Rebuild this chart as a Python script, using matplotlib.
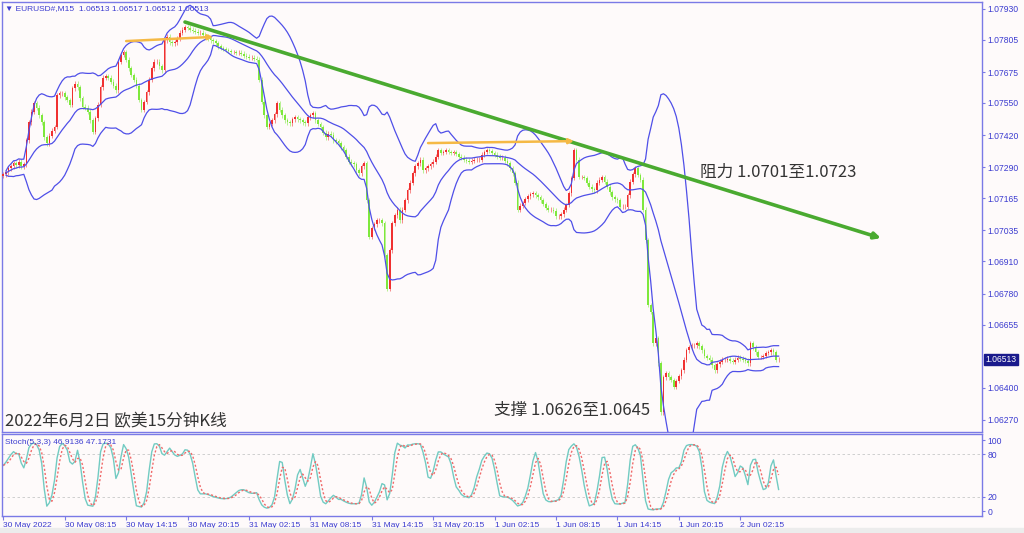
import numpy as np
import pandas as pd
import matplotlib
matplotlib.use("Agg")
import matplotlib.pyplot as plt
from matplotlib.patches import Rectangle

# EURUSD M15 收盘价（单位 0.00001），按日期分段
close_30may = [
    107263, 107271, 107287, 107295, 107307, 107299, 107312, 107295, 107303, 107400,
    107473, 107514, 107550, 107530, 107501, 107473, 107412, 107388, 107417, 107437,
    107453, 107582, 107590, 107590, 107574, 107562, 107542, 107610, 107627, 107614,
    107570, 107534, 107530, 107514, 107481, 107433, 107489, 107542, 107614, 107651,
    107659, 107651, 107635, 107619, 107602, 107716, 107744, 107756, 107724, 107691,
    107663, 107643, 107619, 107562, 107522, 107554, 107594, 107643, 107691, 107716,
    107716, 107699, 107683, 107804, 107817, 107796, 107792, 107796, 107812, 107833,
    107845, 107857, 107853, 107845, 107841, 107837, 107833, 107833, 107825, 107817,
    107812, 107804, 107800, 107792, 107780, 107772, 107768,
]
close_31may = [
    107764, 107760, 107756, 107756, 107752, 107752, 107748, 107740, 107736, 107732,
    107732, 107728, 107724, 107643, 107554, 107501, 107453, 107465, 107481, 107505,
    107550, 107522, 107501, 107481, 107473, 107469, 107485, 107493, 107485, 107481,
    107473, 107469, 107493, 107501, 107509, 107481, 107465, 107453, 107429, 107412,
    107425, 107421, 107400, 107396, 107388, 107372, 107360, 107332, 107312, 107307,
    107303, 107279, 107267, 107295, 107307, 107158, 107009, 107045, 107061, 107077,
    107077, 107065, 106936, 106800, 106956, 107065, 107097, 107118, 107077, 107118,
    107158, 107198, 107227, 107267, 107295, 107307, 107320, 107279, 107287, 107295,
    107303, 107312, 107332, 107360, 107348, 107352, 107360, 107352, 107348, 107352,
    107344, 107332, 107328, 107320, 107316, 107312,
]
close_1jun = [
    107316, 107320, 107320, 107320, 107340, 107352, 107360, 107356, 107348, 107340,
    107332, 107328, 107328, 107316, 107307, 107287, 107267, 107227, 107118, 107134,
    107146, 107162, 107174, 107182, 107186, 107178, 107170, 107158, 107142, 107126,
    107118, 107118, 107114, 107093, 107093, 107101, 107118, 107138, 107186, 107247,
    107360, 107320, 107251, 107251, 107247, 107227, 107211, 107202, 107198, 107227,
    107239, 107251, 107231, 107211, 107190, 107170, 107162, 107158, 107130, 107130,
    107130, 107178, 107231, 107263, 107287, 107259, 107239, 107118, 106996, 106734,
    106706, 106580, 106600, 106499, 106300, 106443, 106459, 106443, 106431, 106403,
    106427, 106447, 106471, 106512, 106552, 106564, 106572, 106572, 106580, 106568,
    106552, 106528, 106520, 106512, 106491, 106471,
]
close_2jun = [
    106495, 106504, 106512, 106512, 106516, 106508, 106504, 106512, 106520, 106516,
    106512, 106508, 106499, 106580, 106564, 106544, 106524, 106524, 106528, 106540,
    106544, 106552, 106544, 106512, 106513,
]
first_open = 107255

time_ticks = [0, 24, 48, 72, 96, 120, 144, 168, 192, 216, 240, 264, 288]
time_labels = ["30 May 2022", "30 May 08:15", "30 May 14:15", "30 May 20:15",
               "31 May 02:15", "31 May 08:15", "31 May 14:15", "31 May 20:15",
               "1 Jun 02:15", "1 Jun 08:15", "1 Jun 14:15", "1 Jun 20:15",
               "2 Jun 02:15"]
price_ticks = [1.07930, 1.07805, 1.07675, 1.07550, 1.07420, 1.07290, 1.07165,
               1.07035, 1.06910, 1.06780, 1.06655, 1.06400, 1.06270]

# 趋势线 (bar, price)
trend_line = [(71, 1.07877), (343, 1.07004)]
level_line_1 = [(48, 1.07800), (82, 1.07817)]
level_line_2 = [(166, 1.07388), (223, 1.07396)]

# ---- 数据整理 ----
closes = np.array(close_30may + close_31may + close_1jun + close_2jun) / 1e5
df = pd.DataFrame({"close": closes})
df["open"] = df["close"].shift(1).fillna(first_open / 1e5)
wick = 0.0001
df["high"] = df[["open", "close"]].max(axis=1) + wick
df["low"] = df[["open", "close"]].min(axis=1) - wick
idx = np.arange(len(df))

# 布林带 (20, 2)
mid = df["close"].rolling(20, min_periods=2).mean()
sd = df["close"].rolling(20, min_periods=2).std(ddof=0)
upper = mid + 2 * sd
lower = mid - 2 * sd

# 随机指标 (5,3,3)
ll = df["low"].rolling(5, min_periods=1).min()
hh = df["high"].rolling(5, min_periods=1).max()
k = 100 * (df["close"] - ll).rolling(3, min_periods=1).sum() / (hh - ll).rolling(3, min_periods=1).sum()
d = k.rolling(3, min_periods=1).mean()

# ---- 画图 ----
plt.rcParams['font.family'] = ['Noto Sans CJK SC', 'DejaVu Sans']
bg = "#fefafa"
axis_blue = "#3c3cd0"
frame = "#7a7ae6"

fig = plt.figure(figsize=(10.24, 5.33), dpi=100, facecolor=bg)
ax = fig.add_axes([0.002, 0.1895, 0.957, 0.8068], facecolor=bg)
ax2 = fig.add_axes([0.002, 0.0319, 0.957, 0.1538], facecolor=bg, sharex=ax)
fig.patches.append(Rectangle((0, 0), 1, 5 / 533, transform=fig.transFigure,
                             color="#ececec", zorder=0))

up = df["close"] >= df["open"]
colors = np.where(up, "#f03030", "#7ee83c")
body_bottom = df[["open", "close"]].min(axis=1)
body_height = (df["close"] - df["open"]).abs().clip(lower=0.000012)
ax.vlines(idx, df["low"], df["high"], colors=colors, lw=0.7, alpha=0.55, zorder=2)
ax.bar(idx, body_height, bottom=body_bottom, width=0.65, color=colors, lw=0, zorder=3)

for band in (upper, mid, lower):
    ax.plot(idx, band, color="#4f4fe8", lw=0.9, zorder=4)

(x0, y0), (x1, y1) = trend_line
ax.annotate("", xy=(x1, y1), xytext=(x0, y0),
            arrowprops=dict(arrowstyle="-|>", color="#4aaa30", lw=2.6,
                            mutation_scale=9, shrinkA=0, shrinkB=0), zorder=5)
for (a0, b0), (a1, b1) in (level_line_1, level_line_2):
    ax.annotate("", xy=(a1, b1), xytext=(a0, b0),
                arrowprops=dict(arrowstyle="-|>", color="#f5b945", lw=1.8,
                                mutation_scale=7, shrinkA=0, shrinkB=0), zorder=5)

ax.text(0.712, 0.605, "阻力 1.0701至1.0723", transform=ax.transAxes,
        fontsize=12, color="#333333", va="center", ha="left")
ax.text(0.502, 0.051, "支撑 1.0626至1.0645", transform=ax.transAxes,
        fontsize=12, color="#333333", va="center", ha="left")
ax.text(0.003, 0.023, "2022年6月2日 欧美15分钟K线", transform=ax.transAxes,
        fontsize=12, color="#333333", va="center", ha="left")
ax.text(0.003, 0.985, "▼ EURUSD#,M15  1.06513 1.06517 1.06512 1.06513",
        transform=ax.transAxes, fontsize=6, color=axis_blue, va="center",
        ha="left", family=["Liberation Sans", "DejaVu Sans"])

ax.set_ylim(1.06221, 1.07958)
ax.set_xlim(-0.5, 382.5)
ax.yaxis.tick_right()
ax.set_yticks(price_ticks)
ax.set_yticklabels([f"{p:.5f}" for p in price_ticks])
ax.tick_params(axis="y", colors=frame, labelcolor=axis_blue, labelsize=6.2,
               length=2, pad=2)
ax.tick_params(axis="x", bottom=False, labelbottom=False)
for lab in ax.get_yticklabels():
    lab.set_family(["Liberation Sans", "DejaVu Sans"])

last = df["close"].iloc[-1]
ax.annotate(f"{last:.5f}", xy=(1.0, last), xycoords=("axes fraction", "data"),
            xytext=(2.5, 0), textcoords="offset points", ha="left", va="center",
            fontsize=6.2, color="white", family=["Liberation Sans", "DejaVu Sans"],
            bbox=dict(boxstyle="square,pad=0.15", fc="#1a1a8c", ec="#1a1a8c"),
            annotation_clip=False, zorder=6)

# 随机指标面板
ax2.axhline(80, color="#c8c8c8", lw=0.6, ls=(0, (3, 3)))
ax2.axhline(20, color="#c8c8c8", lw=0.6, ls=(0, (3, 3)))
ax2.plot(idx, k, color="#72cbc2", lw=1.0)
ax2.plot(idx, d, color="#f06a6a", lw=1.0, ls=(0, (1.5, 1.5)))
ax2.set_ylim(-7, 108.5)
ax2.yaxis.tick_right()
ax2.set_yticks([0, 20, 80, 100])
ax2.tick_params(axis="y", colors=frame, labelcolor=axis_blue, labelsize=6.2,
                length=2, pad=2)
ax2.set_xticks(time_ticks)
ax2.set_xticklabels(time_labels)
ax2.tick_params(axis="x", colors=frame, labelcolor=axis_blue, labelsize=6,
                length=3, pad=1)
for lab in ax2.get_xticklabels() + ax2.get_yticklabels():
    lab.set_family(["Liberation Sans", "DejaVu Sans"])
for lab in ax2.get_xticklabels():
    lab.set_ha("left")
ax2.text(0.003, 0.9, "Stoch(5,3,3) 46.9136 47.1731", transform=ax2.transAxes,
         fontsize=6, color=axis_blue, va="center", ha="left",
         family=["Liberation Sans", "DejaVu Sans"])

for a in (ax, ax2):
    for s in a.spines.values():
        s.set_color(frame)
        s.set_linewidth(1.0)

fig.savefig("out.png", dpi=100, facecolor=bg)
